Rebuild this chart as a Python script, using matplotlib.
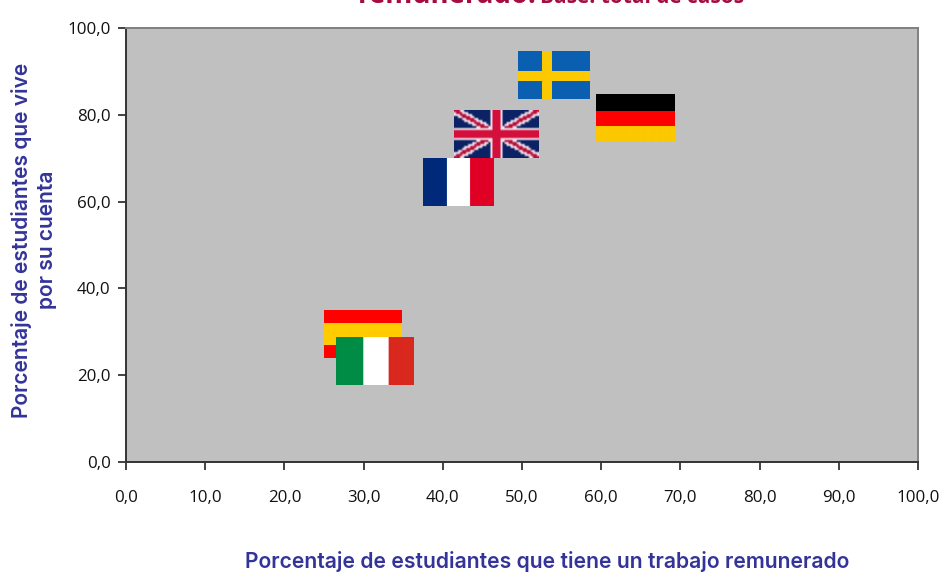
import matplotlib
matplotlib.use('Agg')
import matplotlib.pyplot as plt
import numpy as np

# flag centres (x, y in percent)
countries = ['Suecia', 'Alemania', 'Reino Unido', 'Francia', 'España', 'Italia']
pct_trabajo = [54.0, 64.3, 46.8, 42.0, 29.9, 31.45]
pct_cuenta = [89.2, 79.3, 75.6, 64.5, 29.5, 23.3]
flag_w = [9.0, 9.9, 10.7, 8.9, 9.8, 9.8]
flag_h = [11.0, 11.0, 11.0, 11.0, 11.0, 11.0]

ticks = [0, 10, 20, 30, 40, 50, 60, 70, 80, 90, 100]
y_ticks = [0, 20, 40, 60, 80, 100]

blue = '#333399'
crimson = '#a50d3f'

plt.rcParams['font.family'] = ['Open Sans', 'DejaVu Sans']


def rgb(c):
    return np.array(matplotlib.colors.to_rgb(c))


def vstripes(cols, weights):
    edges = np.cumsum(weights) / np.sum(weights)
    img = np.zeros((48, 80, 3))
    xx = (np.arange(80) + 0.5) / 80
    for i in range(80):
        img[:, i] = rgb(cols[np.searchsorted(edges, xx[i])])
    return img


def hstripes(cols, weights):
    edges = np.cumsum(weights) / np.sum(weights)
    img = np.zeros((48, 80, 3))
    yy = (np.arange(48) + 0.5) / 48
    for i in range(48):
        img[i, :] = rgb(cols[np.searchsorted(edges, yy[i])])
    return img


def sweden():
    img = np.zeros((48, 72, 3)) + rgb('#0a5fb0')
    img[:, 24:34] = rgb('#fcc800')
    img[20:30, :] = rgb('#fcc800')
    return img


def uk():
    # low resolution on purpose, the original flag is a blurry little picture
    h, w = 24, 42
    yy, xx = np.mgrid[0:h, 0:w]
    u = (xx + 0.5 - w / 2) / (w / 2)
    v = (yy + 0.5 - h / 2) / (h / 2)
    img = np.zeros((h, w, 3)) + rgb('#0b2265')
    d1 = np.abs(u - v)
    d2 = np.abs(u + v)
    img[(d1 < 0.2) | (d2 < 0.2)] = rgb('#f0dfe6')
    img[(d1 < 0.08) | (d2 < 0.08)] = rgb('#b8103e')
    img[(np.abs(u) < 0.15) | (np.abs(v) < 0.27)] = rgb('#f0dfe6')
    img[(np.abs(u) < 0.10) | (np.abs(v) < 0.17)] = rgb('#d40f3c')
    return img


flags = [
    sweden(),
    hstripes(['#000000', '#ff0000', '#fcc800'], [17, 15, 16]),
    uk(),
    vstripes(['#00297a', '#ffffff', '#e00025'], [34, 33, 34]),
    hstripes(['#ff0000', '#ffcc00', '#ff0000'], [13, 21, 13]),
    vstripes(['#008c45', '#ffffff', '#d9281e'], [35, 33, 32]),
]

fig = plt.figure(figsize=(9.42, 5.72), dpi=100)
ax = fig.add_axes([126 / 942, 110 / 572, 792 / 942, 434 / 572])
ax.set_facecolor('#c0c0c0')

for i in range(len(countries)):
    x, y = pct_trabajo[i], pct_cuenta[i]
    w, h = flag_w[i], flag_h[i]
    ax.imshow(flags[i], extent=[x - w / 2, x + w / 2, y - h / 2, y + h / 2],
              aspect='auto', interpolation='bilinear', zorder=3 + i)

ax.set_xlim(0, 100)
ax.set_ylim(0, 100)
ax.set_xticks(ticks)
ax.set_yticks(y_ticks)
ax.set_xticklabels([('%.1f' % t).replace('.', ',') for t in ticks])
ax.set_yticklabels([('%.1f' % t).replace('.', ',') for t in y_ticks])
ax.tick_params(axis='x', length=6, width=1.2, color='#222222', pad=14, labelsize=12.2, labelcolor='#111111')
ax.tick_params(axis='y', length=6, width=1.2, color='#222222', pad=5, labelsize=12.2, labelcolor='#111111')

ax.spines['left'].set_color('#333333')
ax.spines['bottom'].set_color('#333333')
ax.spines['left'].set_linewidth(1.4)
ax.spines['bottom'].set_linewidth(1.4)
ax.spines['top'].set_color('#808080')
ax.spines['right'].set_color('#808080')
ax.spines['top'].set_linewidth(1.4)
ax.spines['right'].set_linewidth(1.4)

label_font = ['Inter', 'DejaVu Sans']
fig.text(547.5 / 942, 1 - 568 / 572, 'Porcentaje de estudiantes que tiene un trabajo remunerado',
         color=blue, fontsize=15.2, family=label_font, fontweight='semibold', ha='center', va='baseline')
fig.text(22 / 942, 1 - 240 / 572, 'Porcentaje de estudiantes que vive',
         color=blue, fontsize=15.1, family=label_font, fontweight='semibold', rotation=90, ha='center', va='center')
fig.text(47 / 942, 1 - 240 / 572, 'por su cuenta',
         color=blue, fontsize=15.1, family=label_font, fontweight='semibold', rotation=90, ha='center', va='center')

# title is cut by the top edge in the original
fig.text(358 / 942, 1 - 3 / 572, 'remunerado.', color=crimson, fontsize=19.8,
         fontweight='bold', ha='left', va='baseline')
fig.text(540 / 942, 1 - 3 / 572, 'Base: total de casos', color=crimson, fontsize=15,
         fontweight='bold', ha='left', va='baseline')

plt.savefig('out.png', dpi=100)
